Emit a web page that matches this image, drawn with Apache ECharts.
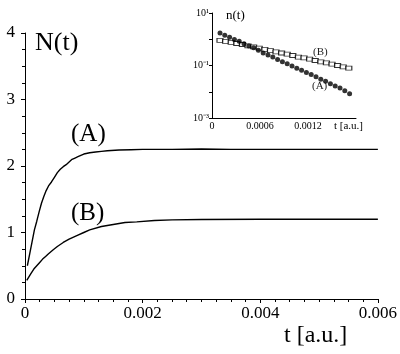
<!DOCTYPE html>
<html>
<head>
<meta charset="utf-8">
<script src="https://cdn.jsdelivr.net/npm/echarts@6/dist/echarts.min.js"></script>
<style>
  html, body { margin: 0; padding: 0; background: #fff; }
  #chart { width: 400px; height: 354px; }
</style>
</head>
<body>
<div id="chart"></div>
<script>
// main plot: N(t)
const tA = [0.00004, 0.00008, 0.00012, 0.00016, 0.0002, 0.00024, 0.00028, 0.00032, 0.00036, 0.0004,
  0.00045, 0.0005, 0.00055, 0.0006, 0.00065, 0.0007, 0.00075, 0.0008, 0.00085, 0.0009,
  0.001, 0.0011, 0.0012, 0.0013, 0.0014, 0.0016, 0.0018, 0.002, 0.0025, 0.003,
  0.0035, 0.004, 0.005, 0.006]
const nA = [0.50, 0.68, 0.86, 1.04, 1.17, 1.31, 1.44, 1.54, 1.63, 1.70,
  1.76, 1.83, 1.90, 1.95, 1.99, 2.02, 2.06, 2.10, 2.12, 2.14,
  2.18, 2.20, 2.21, 2.22, 2.23, 2.24, 2.245, 2.25, 2.25, 2.255,
  2.25, 2.25, 2.25, 2.25]

const tB = [0.00003, 0.0001, 0.00015, 0.0002, 0.00025, 0.0003, 0.00035, 0.0004, 0.00048, 0.00055,
  0.00065, 0.00075, 0.0009, 0.001, 0.0011, 0.0013, 0.0015, 0.0017, 0.0019, 0.0022,
  0.0025, 0.003, 0.004, 0.005, 0.006]
const nB = [0.28, 0.38, 0.45, 0.50, 0.55, 0.60, 0.64, 0.68, 0.74, 0.79,
  0.85, 0.90, 0.96, 1.00, 1.04, 1.09, 1.12, 1.15, 1.16, 1.18,
  1.19, 1.195, 1.20, 1.20, 1.20]

// inset: n(t), log scale
const tInA = [0.0001, 0.00016, 0.00022, 0.00028, 0.00034, 0.0004, 0.00046, 0.00052, 0.00058, 0.00064,
  0.0007, 0.00076, 0.00082, 0.00088, 0.00094, 0.001, 0.00106, 0.00112, 0.00118, 0.00124,
  0.0013, 0.00136, 0.00142, 0.00148, 0.00154, 0.0016, 0.00166, 0.00172]
const nInA = [1.74, 1.41, 1.20, 0.98, 0.83, 0.68, 0.55, 0.47, 0.38, 0.30,
  0.25, 0.21, 0.17, 0.138, 0.117, 0.095, 0.079, 0.066, 0.054, 0.045,
  0.037, 0.030, 0.025, 0.020, 0.0166, 0.0138, 0.011, 0.0083]

const tInB = [0.0001, 0.00017, 0.00024, 0.00031, 0.00038, 0.00045, 0.00052, 0.00059, 0.00066, 0.00073,
  0.0008, 0.00087, 0.00094, 0.00101, 0.00108, 0.00115, 0.00122, 0.00129, 0.00136, 0.00143,
  0.0015, 0.00157, 0.00164, 0.00171]
const nInB = [0.91, 0.83, 0.76, 0.69, 0.63, 0.56, 0.51, 0.46, 0.41, 0.37,
  0.33, 0.30, 0.27, 0.24, 0.21, 0.195, 0.174, 0.155, 0.138, 0.126,
  0.112, 0.100, 0.089, 0.079]

const serif = 'Liberation Serif'
const supLabels = { '1': '10¹', '-1': '10⁻¹', '-3': '10⁻³' }

const zip = (xs, ys) => xs.map((x, i) => [x, ys[i]])

const chart = echarts.init(document.getElementById('chart'))

const axisLine = { show: true, lineStyle: { color: '#000', width: 1 } }
const txt = (text, left, top, size, fill) => ({
  type: 'text', left: left, top: top,
  style: { text: text, fontFamily: serif, fontSize: size, fill: fill || '#000' }
})

chart.setOption({
  animation: false,
  textStyle: { fontFamily: serif },
  grid: [
    { left: 25, right: 20, top: 33, bottom: 55 },
    { left: 212, right: 44, top: 13, bottom: 236 }
  ],
  xAxis: [
    {
      gridIndex: 0, type: 'value', min: 0, max: 0.006, interval: 0.002,
      axisLine: axisLine,
      axisTick: { show: true, length: 4, lineStyle: { color: '#000' } },
      minorTick: { show: true, splitNumber: 8, length: 3, lineStyle: { color: '#000' } },
      splitLine: { show: false },
      axisLabel: {
        color: '#000', fontFamily: serif, fontSize: 17, margin: 6,
        formatter: v => v === 0 ? '0' : String(+v.toFixed(3))
      }
    },
    {
      gridIndex: 1, type: 'value', min: 0, max: 0.0018, interval: 0.0006,
      axisLine: axisLine,
      axisTick: { show: false },
      splitLine: { show: false },
      axisLabel: {
        color: '#000', fontFamily: serif, fontSize: 10, margin: 3,
        formatter: v => v === 0 ? '0' : (v > 0.0015 ? '' : String(+v.toFixed(4)))
      }
    }
  ],
  yAxis: [
    {
      gridIndex: 0, type: 'value', min: 0, max: 4, interval: 1,
      axisLine: axisLine,
      axisTick: { show: true, length: 4, lineStyle: { color: '#000' } },
      minorTick: { show: true, splitNumber: 4, length: 3, lineStyle: { color: '#000' } },
      splitLine: { show: false },
      axisLabel: { color: '#000', fontFamily: serif, fontSize: 17, margin: 10 }
    },
    {
      gridIndex: 1, type: 'log', logBase: 10, min: 0.001, max: 10,
      axisLine: axisLine,
      axisTick: { show: true, length: 3, lineStyle: { color: '#000' } },
      minorTick: { show: false },
      splitLine: { show: false },
      axisLabel: {
        color: '#000', fontFamily: serif, fontSize: 10, margin: 3,
        formatter: v => {
          const e = Math.round(Math.log10(v))
          return supLabels[String(e)] || ''
        }
      }
    }
  ],
  series: [
    {
      name: 'A', type: 'line', xAxisIndex: 0, yAxisIndex: 0, data: zip(tA, nA),
      showSymbol: false, lineStyle: { color: '#000', width: 1.4 }
    },
    {
      name: 'B', type: 'line', xAxisIndex: 0, yAxisIndex: 0, data: zip(tB, nB),
      showSymbol: false, lineStyle: { color: '#000', width: 1.4 }
    },
    {
      name: 'inset B', type: 'scatter', xAxisIndex: 1, yAxisIndex: 1, data: zip(tInB, nInB),
      symbol: 'rect', symbolSize: [6, 4],
      itemStyle: { color: '#fff', borderColor: '#000', borderWidth: 1 }
    },
    {
      name: 'inset A', type: 'scatter', xAxisIndex: 1, yAxisIndex: 1, data: zip(tInA, nInA),
      symbol: 'circle', symbolSize: 5,
      itemStyle: { color: '#000' }
    }
  ],
  graphic: [
    txt('N(t)', 35, 30, 26),
    txt('(A)', 71, 122, 25),
    txt('(B)', 71, 201, 25),
    txt('t [a.u.]', 284, 324, 24),
    txt('n(t)', 226, 9, 13),
    txt('(B)', 313, 47, 11, '#222'),
    txt('(A)', 312, 81, 11, '#222'),
    txt('t [a.u.]', 334, 121, 11)
  ]
})
</script>
</body>
</html>
